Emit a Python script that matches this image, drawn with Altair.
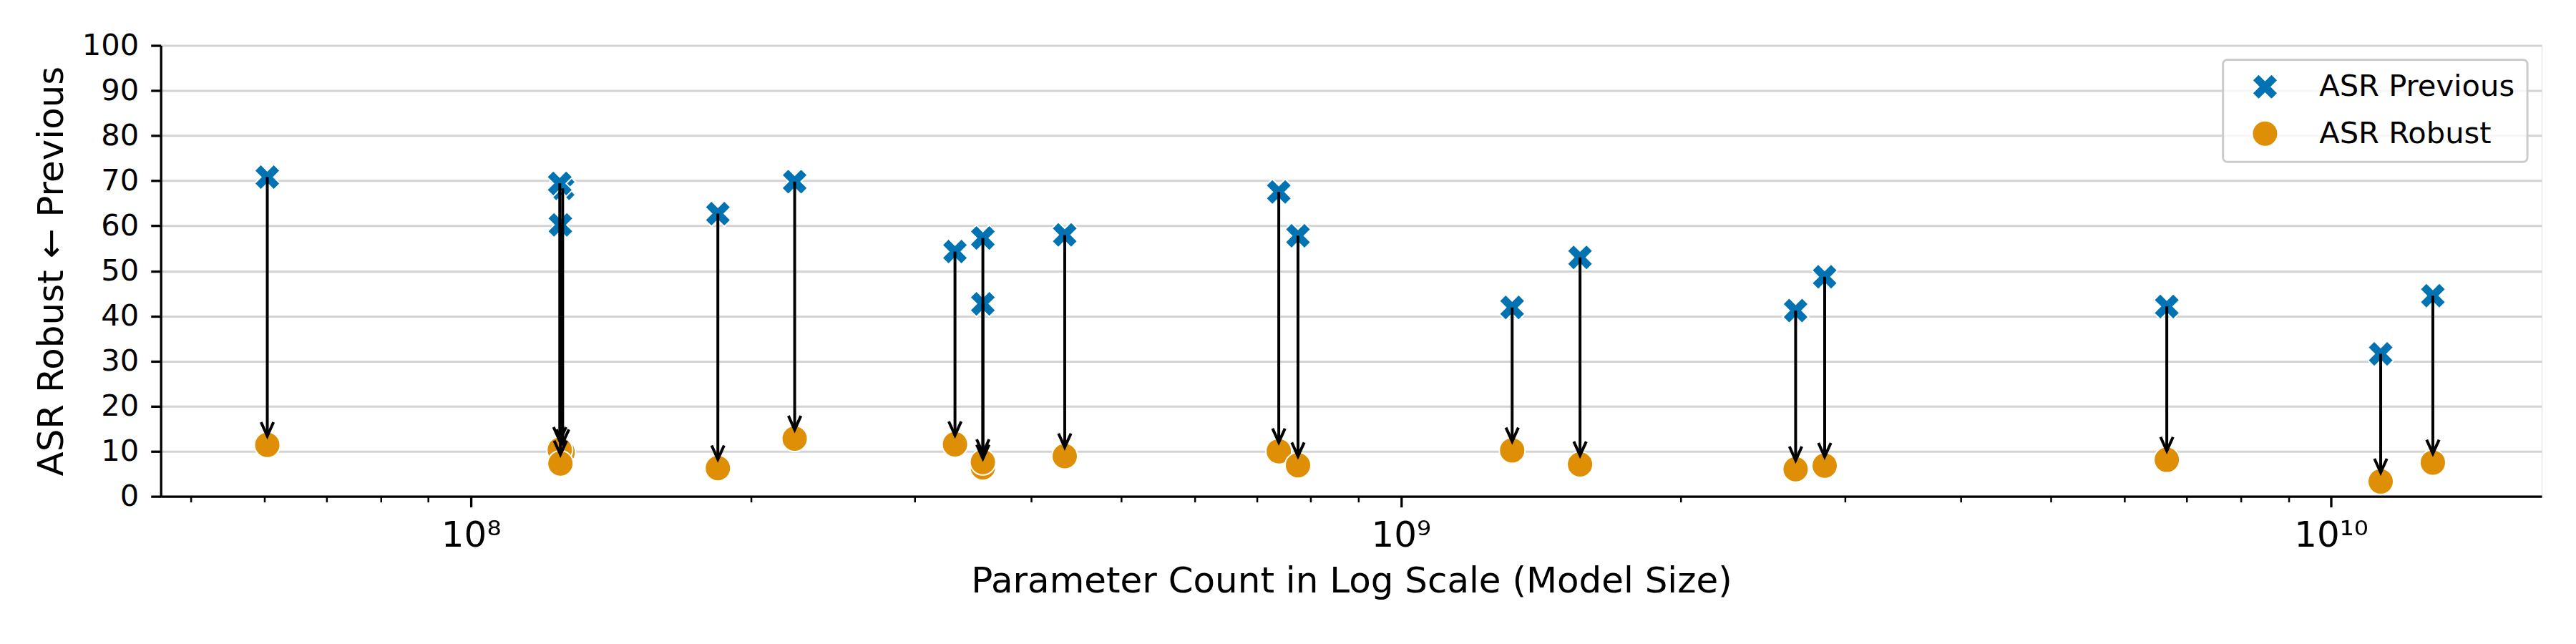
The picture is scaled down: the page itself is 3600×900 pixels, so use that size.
import altair as alt
import pandas as pd

# ---- data ----
params = [6.04e7, 1.255e8, 1.246e8, 1.248e8, 1.843e8, 2.229e8, 3.315e8, 3.552e8, 3.552e8,
          4.35e8, 7.39e8, 7.75e8, 1.317e9, 1.558e9, 2.657e9, 2.855e9, 6.66e9, 1.131e10, 1.287e10]
asr_previous = [70.8, 68.3, 69.4, 60.2, 62.7, 69.8, 54.3, 42.7, 57.3,
                58.0, 67.5, 57.8, 41.9, 53.0, 41.2, 48.7, 42.1, 31.6, 44.5]
asr_robust = [11.4, 9.8, 10.3, 7.3, 6.25, 12.8, 11.55, 6.4, 7.6,
              8.9, 10.0, 6.9, 10.2, 7.1, 6.0, 6.8, 8.1, 3.3, 7.5]

series_names = ["ASR Previous", "ASR Robust"]
series_colors = ["#0173B2", "#DE8F05"]

major_ticks = [1e8, 1e9, 1e10]
minor_ticks = [5e7, 6e7, 7e7, 8e7, 9e7,
               2e8, 3e8, 4e8, 5e8, 6e8, 7e8, 8e8, 9e8,
               2e9, 3e9, 4e9, 5e9, 6e9, 7e9, 8e9, 9e9]
y_ticks = list(range(0, 101, 10))

wide_df = pd.DataFrame({"params": params, "prev": asr_previous, "robust": asr_robust})
long_df = pd.concat([
    pd.DataFrame({"params": params, "value": asr_previous, "series": series_names[0]}),
    pd.DataFrame({"params": params, "value": asr_robust, "series": series_names[1]}),
], ignore_index=True)

FONT = "DejaVu Sans"
X_PATH = "M0.5,-1L1,-0.5L0.5,0L1,0.5L0.5,1L0,0.5L-0.5,1L-1,0.5L-0.5,0L-1,-0.5L-0.5,-1L0,-0.5Z"
ARROW_PATH = "M-0.45,-1L0,0L0.45,-1"
MSIZE = 1300

W, H = 3332, 631

xscale = alt.Scale(type="log", domain=[4.64e7, 1.685e10], nice=False)
yscale = alt.Scale(domain=[0, 100], nice=False)

yaxis = alt.Axis(values=y_ticks, title="ASR Robust ← Previous", grid=True,
                 gridColor="#d3d3d3", gridWidth=3, tickSize=14, tickWidth=3.3,
                 tickColor="black", domainColor="black", domainWidth=3.3,
                 labelFontSize=41.7, labelPadding=17, labelColor="black", labelFont=FONT,
                 titleFont=FONT, titleFontSize=50, titleFontWeight="normal", titleColor="black",
                 titleAngle=270, titleX=-137, titleY=H / 2, titleBaseline="alphabetic",
                 titleAlign="center")

xaxis = alt.Axis(values=major_ticks,
                 labelExpr="datum.value == 1e8 ? '10⁸' : datum.value == 1e9 ? '10⁹' : '10¹⁰'",
                 title="Parameter Count in Log Scale (Model Size)", grid=False, orient="bottom",
                 tickSize=15, tickWidth=3.3, tickColor="black", domainColor="black",
                 domainWidth=3.3, labelFontSize=50, labelPadding=14.5, labelColor="black",
                 labelFont=FONT, labelFlush=False, labelOverlap=False,
                 titleFont=FONT, titleFontSize=50, titleFontWeight="normal", titleColor="black",
                 titleX=W / 2, titleY=134, titleBaseline="alphabetic", titleAlign="center")

xminor = alt.Axis(values=minor_ticks, labels=False, title="", grid=False, orient="bottom",
                  tickSize=8, tickWidth=2.5, tickColor="black", domain=False)

legend = alt.Legend(title=None, orient="top-right", offset=20, padding=17,
                    fillColor="rgba(255,255,255,0.8)", strokeColor="#cccccc",
                    cornerRadius=6, symbolSize=MSIZE, symbolOffset=21, labelOffset=55,
                    labelFontSize=41.7, labelFont=FONT, labelColor="black", labelLimit=1000,
                    symbolStrokeColor="white", symbolStrokeWidth=2)

points = alt.Chart(long_df).mark_point(filled=True, opacity=1, stroke="white",
                                       strokeWidth=2, size=MSIZE).encode(
    x=alt.X("params:Q", scale=xscale, axis=xaxis),
    y=alt.Y("value:Q", scale=yscale, axis=yaxis),
    color=alt.Color("series:N", scale=alt.Scale(domain=series_names, range=series_colors),
                    legend=legend),
    shape=alt.Shape("series:N", scale=alt.Scale(domain=series_names, range=[X_PATH, "circle"]),
                    legend=legend),
)

rules = alt.Chart(wide_df).mark_rule(color="black", strokeWidth=4, y2Offset=-12.5).encode(
    x=alt.X("params:Q", scale=xscale, axis=None),
    y=alt.Y("prev:Q", scale=yscale, axis=yaxis),
    y2="robust:Q",
)

heads = alt.Chart(wide_df).mark_point(shape=ARROW_PATH, filled=False, color="black",
                                      stroke="black", strokeWidth=4, size=1500,
                                      yOffset=-12.5, opacity=1, strokeJoin="miter").encode(
    x=alt.X("params:Q", scale=xscale, axis=xminor),
    y=alt.Y("robust:Q", scale=yscale, axis=yaxis),
)

chart = alt.layer(points, rules, heads).resolve_axis(x="independent").properties(
    width=W, height=H,
    autosize=alt.AutoSizeParams(type="none"),
    padding={"left": 217, "top": 55, "right": 40, "bottom": 190},
).configure_view(strokeWidth=0).configure(font=FONT).configure_legend(
    strokeWidth=3, rowPadding=20.6)

chart.save("out.html", embed_options={"renderer": "svg", "actions": False})
